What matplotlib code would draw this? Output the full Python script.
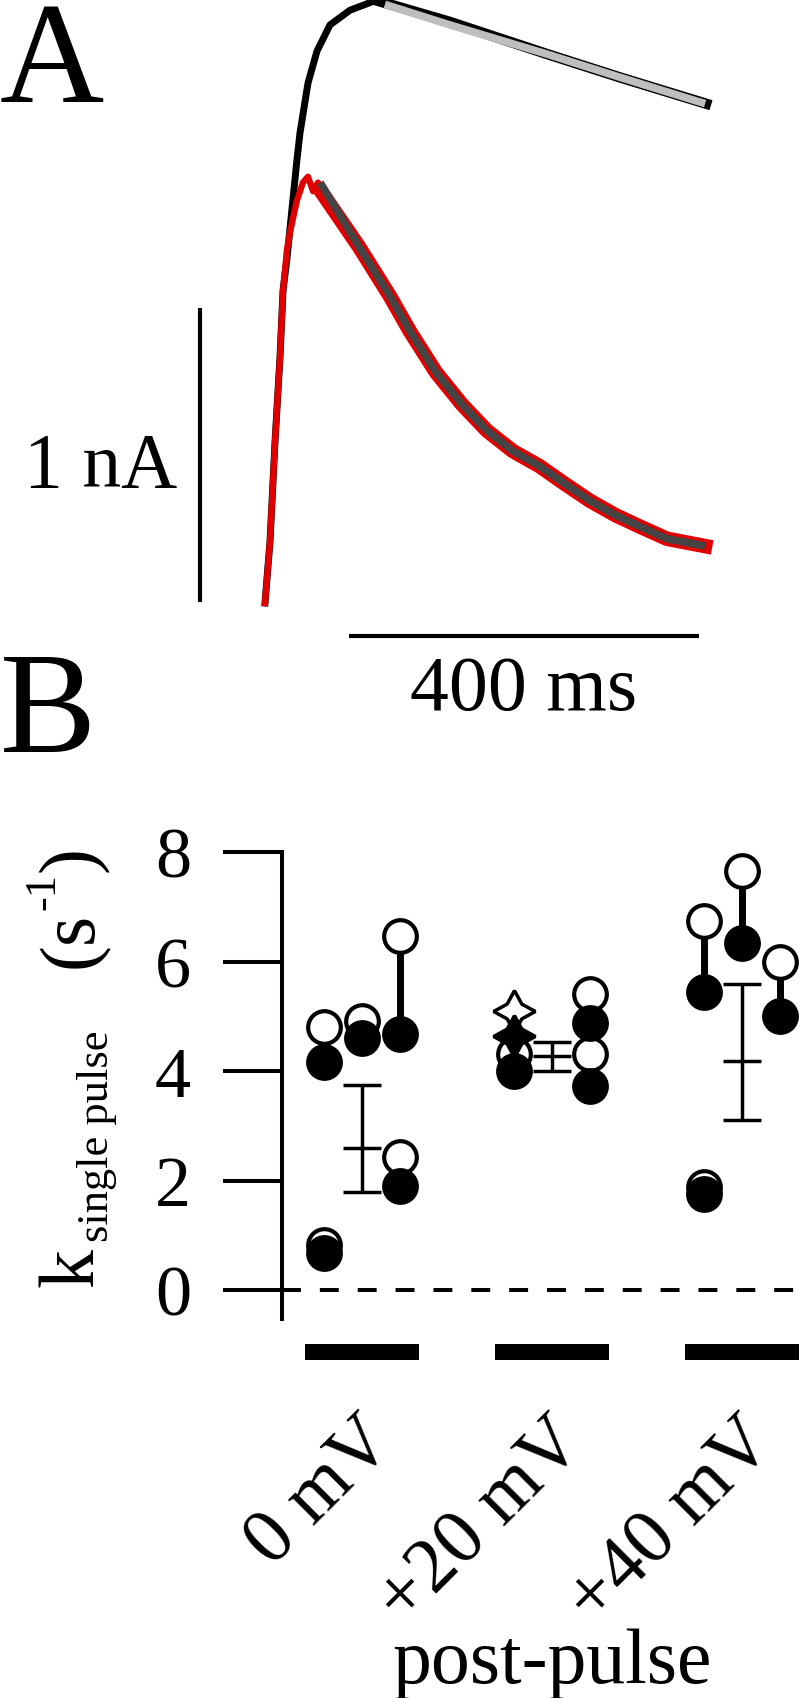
import matplotlib
matplotlib.use('Agg')
import matplotlib.pyplot as plt

plt.rcParams['font.family'] = ['Liberation Serif', 'DejaVu Serif']

# ---- panel A: current traces (ms, nA) ----
black_t = [0, 5.7, 11.4, 17.1, 20.6, 25.1, 36.6, 40.0, 49.1, 59.4, 74.3, 97.1,
           123.4, 131.4, 211.4, 322.3, 405.7, 504.0]
black_i = [0, 0.21, 0.55, 0.84, 1.07, 1.18, 1.52, 1.61, 1.78, 1.89, 1.98, 2.03,
           2.06, 2.06, 1.99, 1.88, 1.80, 1.71]
slow_fit_t = [137, 211, 322, 406, 503]
slow_fit_i = [2.05, 1.98, 1.88, 1.80, 1.71]

red_t = [0, 5.7, 11.4, 17.1, 20.6, 25.1, 28.6, 36.6, 43.4, 49.1, 54.9, 60.6,
         66.3, 107.4, 142.9, 165.7, 195.4, 225.1, 253.7, 283.4, 313.1, 341.7,
         371.4, 401.1, 429.7, 459.4, 502.9]
red_i = [0, 0.21, 0.55, 0.84, 1.07, 1.21, 1.27, 1.38, 1.44, 1.46, 1.41, 1.44,
         1.40, 1.22, 1.05, 0.93, 0.79, 0.68, 0.59, 0.52, 0.47, 0.41,
         0.35, 0.30, 0.26, 0.22, 0.195]
fast_fit_t = [63, 107.4, 142.9, 165.7, 195.4, 225.1, 253.7, 283.4, 313.1, 341.7,
              371.4, 401.1, 429.7, 459.4, 502.9]
fast_fit_i = [1.44, 1.22, 1.05, 0.93, 0.79, 0.68, 0.59, 0.52, 0.47, 0.41,
              0.35, 0.30, 0.26, 0.22, 0.195]

# ---- panel B: rate constants (s^-1) ----
conditions = ['0 mV', '+20 mV', '+40 mV']
pair_group = [0, 0, 0, 0, 0, 1, 1, 1, 2, 2, 2, 2]
pair_offset = [-0.2, 0.0, 0.2, 0.2, -0.2, 0.2, 0.2, -0.2, -0.2, 0.0, 0.2, -0.2]
open_vals = [4.81, 4.91, 6.47, 2.43, 0.83, 5.41, 4.31, 4.31, 6.74, 7.65, 6.0, 1.88]
filled_vals = [4.16, 4.60, 4.68, 1.90, 0.68, 4.88, 3.73, 4.00, 5.44, 6.34, 5.0, 1.76]
star_open = 5.10
star_filled = 4.64
star_offset = -0.2
star_group = 1
mean_vals = [2.59, 4.27, 4.18]
err_low = [1.79, 4.00, 3.10]
err_high = [3.74, 4.53, 5.59]

fig = plt.figure(figsize=(8, 16.99), dpi=100)


def fpos(x, y):
    # pixel position (from top-left) -> figure fraction
    return x / 800, 1 - y / 1699


# ---------- panel A ----------
axA = fig.add_axes([0, 1 - 650 / 1699, 1, 650 / 1699])
axA.set_xlim(-265 / 0.875, 535 / 0.875)
axA.set_ylim((604 - 650) / 292, 604 / 292)
axA.axis('off')

axA.plot(black_t, black_i, color='black', lw=5, solid_joinstyle='round', clip_on=False)
axA.plot(black_t[13:], black_i[13:], color='black', lw=7.5, solid_joinstyle='round', clip_on=False)
axA.plot(slow_fit_t, slow_fit_i, color='#bebebe', lw=5.5, solid_capstyle='butt', clip_on=False)
axA.plot(red_t, red_i, color='#e00000', lw=4.5, solid_joinstyle='round', clip_on=False)
axA.plot(red_t[12:], red_i[12:], color='#e00000', lw=10.5, solid_joinstyle='round', clip_on=False)
axA.plot(fast_fit_t, fast_fit_i, color='#444444', lw=5.5, solid_capstyle='butt',
         solid_joinstyle='round', clip_on=False)

# scale bars
axA.plot([-74.3, -74.3], [0.005, 1.01], color='black', lw=3, solid_capstyle='butt')
axA.plot([96, 496], [-0.113, -0.113], color='black', lw=3, solid_capstyle='butt')
axA.text(-100.6, 0.40, '1 nA', fontsize=56, ha='right', va='baseline')
axA.text(296, -0.363, '400 ms', fontsize=56, ha='center', va='baseline')

fig.text(*fpos(0, 102), 'A', fontsize=104, ha='left', va='baseline')
fig.text(*fpos(0, 752), 'B', fontsize=104, ha='left', va='baseline')

# ---------- panel B ----------
left, right, top, bottom = 282, 800, 853, 1387
axB = fig.add_axes([left / 800, 1 - bottom / 1699, (right - left) / 800, (bottom - top) / 1699])
axB.set_xlim((282 - 362) / 190, (800 - 362) / 190)
axB.set_ylim(-(bottom - 1291) / 54.75, 8)

for s in ['top', 'right', 'bottom']:
    axB.spines[s].set_visible(False)
axB.spines['left'].set_linewidth(2.9)
axB.spines['left'].set_bounds(-0.53, 8)
axB.set_yticks([0, 2, 4, 6, 8])
axB.tick_params(axis='y', direction='out', length=42.5, width=2.9, pad=23, labelsize=52)
axB.set_xticks([])

axB.axhline(0, color='black', lw=2.9, ls=(0, (4.7, 4.7)), zorder=1)

ms = 23.5
mew = 3
for g, off, o, f in zip(pair_group, pair_offset, open_vals, filled_vals):
    x = g + off
    axB.plot([x, x], [f, o], color='black', lw=5, zorder=2, clip_on=False)
    axB.plot(x, o, 'o', ms=ms, mfc='white', mec='black', mew=mew, zorder=3, clip_on=False)
    axB.plot(x, f, 'o', ms=ms, mfc='black', mec='black', mew=mew, zorder=4, clip_on=False)

xs = star_group + star_offset
axB.plot([xs, xs], [star_filled, star_open], color='black', lw=5, zorder=2)
axB.plot(xs, star_open, marker=(4, 1, 0), ms=30, mfc='white', mec='black', mew=2.5, zorder=3)
axB.plot(xs, star_filled, marker=(4, 1, 0), ms=30, mfc='black', mec='black', mew=2.5, zorder=3)

groups = list(range(len(conditions)))
yerr = [[m - lo for m, lo in zip(mean_vals, err_low)],
        [hi - m for m, hi in zip(mean_vals, err_high)]]
axB.errorbar(groups, mean_vals, yerr=yerr, fmt='_', ms=27, mew=2.5, color='black',
             elinewidth=2.5, capsize=13.5, capthick=2.5, zorder=3)

# condition bars under the axis
for g in groups:
    axB.plot([g - 0.3, g + 0.3], [-1.13, -1.13], color='black', lw=11.5,
             solid_capstyle='butt', clip_on=False)

for g, lab in zip(groups, conditions):
    axB.text(g + 0.18, -2.80, lab, fontsize=56, rotation=45, ha='right',
             va='baseline', rotation_mode='anchor')

fig.text(*fpos(553, 1683), 'post-pulse', fontsize=56, ha='center', va='baseline')

# y label: k_single pulse (s^-1), rotated
lab_kw = dict(rotation=90, rotation_mode='anchor', ha='left', va='baseline')
fig.text(*fpos(92, 1287), 'k', fontsize=56, **lab_kw)
fig.text(*fpos(108, 1242), 'single pulse', fontsize=32, **lab_kw)
fig.text(*fpos(92, 968), '(s', fontsize=56, **lab_kw)
fig.text(*fpos(54, 910), '-1', fontsize=32, **lab_kw)
fig.text(*fpos(92, 872), ')', fontsize=56, **lab_kw)

fig.savefig('out.png', dpi=100)
